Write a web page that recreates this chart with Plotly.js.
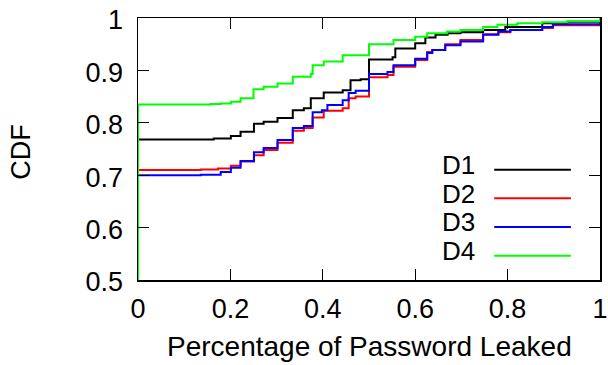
<!DOCTYPE html>
<html>
<head>
<meta charset="utf-8">
<script src="https://cdn.plot.ly/plotly-3.0.1.min.js"></script>
<style>
  html, body { margin: 0; padding: 0; background: #fff; }
  #chart { width: 608px; height: 365px; }
</style>
</head>
<body>
<div id="chart"></div>
<script>
// Empirical CDFs of the share of each password that was leaked, per dataset.
var seriesNames = ['D1', 'D2', 'D3', 'D4'];
var seriesColors = ['#000000', '#ff0000', '#0000ff', '#00ff00'];

var d1X = [0, 0, 0.164, 0.201, 0.222, 0.251, 0.272, 0.302, 0.335, 0.359, 0.374, 0.402, 0.443, 0.460, 0.482, 0.500, 0.551, 0.557, 0.600, 0.622, 0.644, 0.670, 0.698, 0.747, 0.795, 0.875, 0.929, 1, 1];
var d1Y = [0, 0.768, 0.770, 0.775, 0.783, 0.798, 0.802, 0.809, 0.824, 0.828, 0.847, 0.858, 0.862, 0.881, 0.883, 0.921, 0.925, 0.942, 0.952, 0.963, 0.968, 0.971, 0.973, 0.977, 0.983, 0.990, 0.993, 0.995, 1];

var d2X = [0, 0, 0.136, 0.173, 0.201, 0.222, 0.251, 0.272, 0.302, 0.335, 0.359, 0.378, 0.402, 0.443, 0.456, 0.471, 0.500, 0.540, 0.553, 0.600, 0.626, 0.637, 0.665, 0.698, 0.747, 0.780, 0.806, 0.875, 0.898, 1, 1];
var d2Y = [0, 0.710, 0.711, 0.713, 0.718, 0.726, 0.738, 0.748, 0.762, 0.785, 0.790, 0.810, 0.823, 0.828, 0.847, 0.850, 0.887, 0.891, 0.907, 0.920, 0.935, 0.939, 0.950, 0.958, 0.969, 0.973, 0.977, 0.981, 0.986, 0.986, 1];

var d3X = [0, 0, 0.136, 0.179, 0.201, 0.222, 0.251, 0.272, 0.302, 0.335, 0.359, 0.378, 0.398, 0.410, 0.443, 0.456, 0.471, 0.500, 0.540, 0.553, 0.600, 0.626, 0.637, 0.665, 0.698, 0.747, 0.780, 0.806, 0.875, 0.898, 1, 1];
var d3Y = [0, 0.700, 0.701, 0.706, 0.714, 0.727, 0.744, 0.752, 0.767, 0.790, 0.794, 0.820, 0.824, 0.834, 0.843, 0.857, 0.861, 0.893, 0.897, 0.910, 0.922, 0.933, 0.939, 0.948, 0.955, 0.968, 0.974, 0.977, 0.983, 0.988, 0.988, 1];

var d4X = [0, 0, 0.157, 0.179, 0.201, 0.222, 0.250, 0.272, 0.302, 0.335, 0.374, 0.378, 0.402, 0.443, 0.500, 0.553, 0.600, 0.626, 0.669, 0.698, 0.747, 0.778, 0.821, 0.875, 0.929, 1, 1];
var d4Y = [0, 0.835, 0.836, 0.837, 0.840, 0.847, 0.864, 0.869, 0.875, 0.888, 0.893, 0.910, 0.917, 0.929, 0.950, 0.958, 0.964, 0.971, 0.974, 0.977, 0.983, 0.987, 0.990, 0.992, 0.994, 0.995, 1];

var xTickVals = [0, 0.2, 0.4, 0.6, 0.8, 1];
var xTickText = ['0', '0.2', '0.4', '0.6', '0.8', '1'];
var yTickVals = [0.5, 0.6, 0.7, 0.8, 0.9, 1];
var yTickText = ['0.5', '0.6', '0.7', '0.8', '0.9', '1'];

var xTitle = 'Percentage of Password Leaked';
var yTitle = 'CDF';

var FONT = 'Liberation Sans, Arial, Helvetica, sans-serif';
var xs = [d1X, d2X, d3X, d4X];
var ys = [d1Y, d2Y, d3Y, d4Y];

var traces = seriesNames.map(function (name, i) {
  return {
    type: 'scatter',
    mode: 'lines',
    name: name,
    x: xs[i],
    y: ys[i],
    line: { color: seriesColors[i], width: 2, shape: 'hv' },
    showlegend: false,
    hoverinfo: 'skip'
  };
});

// gnuplot-style key: label on the left, line sample on the right
var keyRowsY = [0.439, 0.330, 0.220, 0.111];
var annotations = [];
var shapes = [];
seriesNames.forEach(function (name, i) {
  annotations.push({
    xref: 'paper', yref: 'paper', x: 0.733, y: keyRowsY[i],
    xanchor: 'right', yanchor: 'middle', showarrow: false,
    text: name, font: { family: FONT, size: 26, color: '#000' }
  });
  shapes.push({
    type: 'line', xref: 'paper', yref: 'paper',
    x0: 0.771, x1: 0.937, y0: keyRowsY[i] - 0.018, y1: keyRowsY[i] - 0.018,
    line: { color: seriesColors[i], width: 2 }
  });
});

annotations.push({
  xref: 'paper', yref: 'paper', x: 0.5, y: -0.254,
  xanchor: 'center', yanchor: 'middle', showarrow: false,
  text: xTitle, font: { family: FONT, size: 28, color: '#000' }
});
annotations.push({
  xref: 'paper', yref: 'paper', x: -0.253, y: 0.49,
  xanchor: 'center', yanchor: 'middle', showarrow: false, textangle: -90,
  text: yTitle, font: { family: FONT, size: 27, color: '#000' }
});

var axisCommon = {
  showgrid: false,
  zeroline: false,
  showline: true,
  linecolor: '#000',
  linewidth: 1.5,
  mirror: 'allticks',
  ticks: 'inside',
  ticklen: 11,
  tickwidth: 1,
  tickcolor: '#000',
  tickfont: { family: FONT, size: 27, color: '#000' },
  ticklabeloverflow: 'allow',
  fixedrange: true
};

var layout = {
  width: 608,
  height: 365,
  margin: { l: 138, r: 8, t: 18, b: 85, pad: 0 },
  paper_bgcolor: '#ffffff',
  plot_bgcolor: '#ffffff',
  font: { family: FONT, size: 27, color: '#000' },
  xaxis: Object.assign({}, axisCommon, {
    range: [0, 1],
    tickmode: 'array', tickvals: xTickVals, ticktext: xTickText,
    ticklabelstandoff: 4
  }),
  yaxis: Object.assign({}, axisCommon, {
    range: [0.5, 1],
    tickmode: 'array', tickvals: yTickVals, ticktext: yTickText,
    ticklabelstandoff: 8, ticklabelshift: 2
  }),
  annotations: annotations,
  shapes: shapes,
  showlegend: false
};

Plotly.newPlot('chart', traces, layout, { displayModeBar: false, staticPlot: true });
</script>
</body>
</html>
